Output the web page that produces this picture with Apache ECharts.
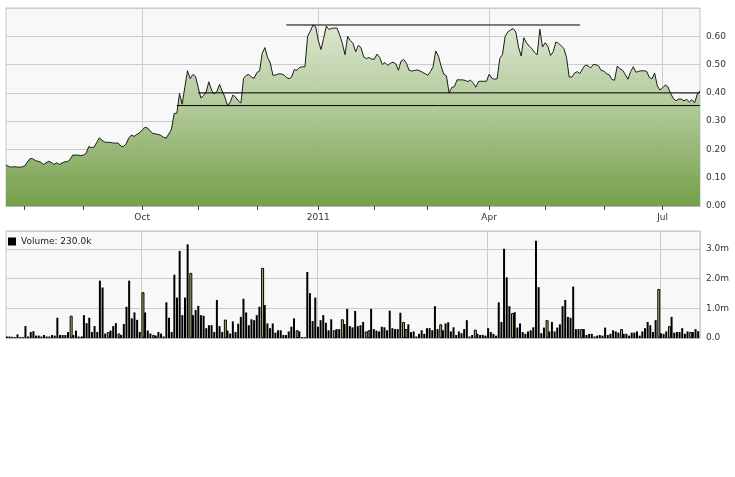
<!DOCTYPE html>
<html><head><meta charset="utf-8">
<script src="https://cdn.jsdelivr.net/npm/echarts@6/dist/echarts.min.js"></script>
<style>html,body{margin:0;padding:0;background:#fff}#c{width:735px;height:477px}</style>
</head><body><div id="c"></div>
<script>
// Trading calendar (weekdays) covered by the chart
const startDate = '2010-07-22';
const endDate = '2011-07-21';
const monthNames = ['Jan','Feb','Mar','Apr','May','Jun','Jul','Aug','Sep','Oct','Nov','Dec'];

// Closing price, one per trading day
const price = [
0.145,0.140,0.137,0.139,0.138,0.137,0.138,0.142,0.155,0.168,
0.167,0.161,0.158,0.155,0.147,0.153,0.158,0.154,0.147,0.153,
0.147,0.152,0.156,0.157,0.165,0.180,0.180,0.180,0.178,0.180,
0.186,0.210,0.207,0.208,0.225,0.241,0.232,0.226,0.225,0.225,
0.223,0.222,0.223,0.212,0.210,0.220,0.240,0.251,0.246,0.253,
0.258,0.268,0.278,0.276,0.265,0.257,0.255,0.253,0.250,0.243,
0.240,0.255,0.272,0.327,0.328,0.398,0.360,0.420,0.478,0.450,
0.465,0.458,0.420,0.382,0.390,0.405,0.439,0.410,0.396,0.405,
0.430,0.407,0.385,0.355,0.368,0.392,0.385,0.372,0.364,0.451,
0.462,0.465,0.455,0.452,0.472,0.477,0.540,0.560,0.525,0.506,
0.462,0.463,0.467,0.467,0.464,0.455,0.450,0.456,0.482,0.480,
0.490,0.492,0.492,0.600,0.618,0.639,0.635,0.585,0.553,0.592,
0.636,0.624,0.628,0.629,0.629,0.605,0.575,0.535,0.600,0.585,
0.575,0.545,0.568,0.560,0.527,0.521,0.525,0.519,0.519,0.537,
0.525,0.500,0.507,0.497,0.505,0.508,0.503,0.480,0.512,0.518,
0.505,0.480,0.477,0.479,0.481,0.478,0.473,0.468,0.462,0.475,
0.492,0.548,0.530,0.495,0.466,0.460,0.400,0.419,0.422,0.446,
0.446,0.446,0.444,0.440,0.445,0.436,0.420,0.440,0.441,0.441,
0.441,0.466,0.452,0.448,0.450,0.522,0.535,0.600,0.615,0.622,
0.627,0.615,0.562,0.530,0.595,0.577,0.565,0.557,0.543,0.535,
0.625,0.562,0.577,0.565,0.532,0.545,0.580,0.575,0.566,0.557,
0.525,0.456,0.456,0.470,0.475,0.468,0.485,0.498,0.496,0.488,
0.500,0.500,0.495,0.479,0.477,0.467,0.464,0.447,0.445,0.495,
0.485,0.480,0.465,0.448,0.475,0.492,0.473,0.476,0.478,0.478,
0.476,0.455,0.449,0.470,0.425,0.410,0.418,0.428,0.421,0.398,
0.380,0.372,0.378,0.378,0.372,0.377,0.368,0.376,0.365,0.396,0.407
];

// Daily volume, millions of shares
const volume = [
.05,.05,.04,.03,.12,.03,.03,.4,.05,.2,
.23,.08,.08,.05,.1,.05,.05,.1,.08,.68,
.1,.1,.1,.2,.75,.1,.25,.05,.05,.77,
.5,.68,.2,.4,.2,1.93,1.7,.15,.2,.25,
.4,.5,.15,.1,.47,1.05,1.93,.66,.86,.61,
.2,1.54,.86,.25,.15,.1,.08,.2,.15,.05,
1.2,.68,.2,2.13,1.36,2.93,.77,1.36,3.15,2.19,
.77,.94,1.08,.77,.75,.33,.43,.43,.2,1.28,
.4,.2,.62,.25,.15,.56,.2,.48,.71,1.32,
.86,.43,.63,.6,.77,1.05,2.36,1.11,.49,.33,
.49,.18,.26,.26,.1,.1,.22,.38,.66,.26,
.22,.03,.03,2.22,1.51,.57,1.36,.38,.6,.77,
.51,.26,.63,.26,.3,.3,.63,.47,.98,.4,
.36,.91,.4,.43,.54,.22,.26,.98,.3,.25,
.22,.38,.36,.26,.92,.33,.3,.3,.85,.54,
.3,.46,.2,.22,.05,.14,.26,.14,.33,.33,
.26,1.07,.3,.46,.26,.49,.53,.22,.36,.1,
.22,.16,.3,.6,.05,.1,.28,.14,.1,.1,
.08,.33,.2,.14,.08,1.2,.54,3.0,2.04,1.07,
.84,.87,.35,.49,.2,.14,.22,.26,.36,3.27,
1.71,.16,.35,.6,.22,.54,.22,.35,.46,1.07,
1.28,.71,.68,1.73,.3,.3,.3,.3,.1,.14,
.14,.05,.08,.1,.08,.35,.1,.14,.26,.22,
.18,.3,.14,.14,.08,.18,.18,.22,.08,.22,
.33,.54,.43,.2,.6,1.65,.16,.14,.22,.4,
.71,.18,.2,.2,.33,.14,.22,.2,.2,.3,.23
];

// Days whose volume bar is drawn hollow-green
const greenBars = [24,28,38,42,51,55,69,82,96,109,123,126,135,136,149,150,163,176,190,203,216,231,245,249,257];

// Horizontal trend lines
const levelFrom = ['2010-12-16','2010-11-01','2010-10-20'];
const levelTo   = ['2011-05-19','2011-07-21','2011-07-21'];
const levelValue = [0.64, 0.40, 0.355];

function tradingDays(s, e) {
  const out = [];
  const [ys, ms, ds] = s.split('-').map(Number);
  const [ye, me, de] = e.split('-').map(Number);
  let t = Date.UTC(ys, ms - 1, ds);
  const end = Date.UTC(ye, me - 1, de);
  while (t <= end) {
    const d = new Date(t);
    const wd = d.getUTCDay();
    if (wd !== 0 && wd !== 6) out.push(d.toISOString().slice(0, 10));
    t += 86400000;
  }
  return out;
}
const dates = tradingDays(startDate, endDate);
const monthOf = s => Number(s.slice(5, 7)) - 1;
const isMonthStart = (i) => i > 0 && monthOf(dates[i]) !== monthOf(dates[i - 1]);
const isQuarterStart = (i) => isMonthStart(i) && monthOf(dates[i]) % 3 === 0;
const labelFmt = (v) => monthOf(v) === 0 ? v.slice(0, 4) : monthNames[monthOf(v)];

const FONT = 'DejaVu Sans';
const gridLine = { lineStyle: { color: '#cccccc', width: 1 } };

const chart = echarts.init(document.getElementById('c'), null, { renderer: 'canvas' });
const blackVol = volume.map((v, i) => greenBars.includes(i) ? null : v);
const greenVol = volume.map((v, i) => greenBars.includes(i) ? v : null);

const levelSeries = levelValue.map((v, k) => ({
  type: 'line', xAxisIndex: 0, yAxisIndex: 0, silent: true, symbol: 'none', z: 4,
  lineStyle: { color: '#000', width: 1 },
  data: [[levelFrom[k], v], [levelTo[k], v]]
}));

chart.setOption({
  animation: false,
  textStyle: { fontFamily: FONT },
  grid: [
    { left: 6, right: 35, top: 8, height: 198, show: true, backgroundColor: '#f8f8f8', borderColor: '#c4c4c4', borderWidth: 1 },
    { left: 6, right: 35, top: 231, height: 107, show: true, backgroundColor: '#f8f8f8', borderColor: '#c4c4c4', borderWidth: 1 }
  ],
  legend: {
    data: ['Volume'], left: 3, top: 232, icon: 'rect', itemWidth: 8, itemHeight: 8, itemGap: 3,
    selectedMode: false,
    formatter: () => 'Volume: ' + (volume[volume.length - 1] * 1000).toFixed(1) + 'k',
    textStyle: { fontSize: 9, color: '#222', fontFamily: FONT }
  },
  xAxis: [
    {
      type: 'category', gridIndex: 0, data: dates, boundaryGap: false,
      axisLine: { lineStyle: { color: '#b8b8b8' } },
      axisTick: { interval: isMonthStart, length: 4, lineStyle: { color: '#444' } },
      axisLabel: { interval: isQuarterStart, formatter: labelFmt, color: '#333', fontSize: 9, margin: 7, fontFamily: FONT },
      splitLine: Object.assign({ show: true, interval: isQuarterStart }, gridLine)
    },
    {
      type: 'category', gridIndex: 1, data: dates, boundaryGap: true,
      axisLine: { lineStyle: { color: '#b8b8b8' } },
      axisTick: { show: false }, axisLabel: { show: false },
      splitLine: Object.assign({ show: true, interval: isQuarterStart }, gridLine)
    }
  ],
  yAxis: [
    {
      type: 'value', gridIndex: 0, position: 'right', min: 0, max: 0.7, interval: 0.1,
      axisLine: { show: false }, axisTick: { show: false },
      axisLabel: { formatter: v => v > 0.65 ? '' : v.toFixed(2), color: '#333', fontSize: 9, margin: 6, fontFamily: FONT },
      splitLine: gridLine
    },
    {
      type: 'value', gridIndex: 1, position: 'right', min: 0, max: 3.6, interval: 1,
      axisLine: { show: false }, axisTick: { show: false },
      axisLabel: {
        formatter: v => v === 0 ? '0.0' : (Math.abs(v - Math.round(v)) < 1e-6 ? v.toFixed(1) + 'm' : ''),
        color: '#333', fontSize: 9, margin: 6, fontFamily: FONT
      },
      splitLine: gridLine
    }
  ],
  series: [
    {
      name: 'Price', type: 'line', xAxisIndex: 0, yAxisIndex: 0, data: price,
      symbol: 'none', z: 3,
      lineStyle: { color: '#1c1c1c', width: 1 },
      areaStyle: {
        opacity: 0.92,
        color: new echarts.graphic.LinearGradient(0, 0, 0, 1, [
          { offset: 0, color: '#d9e5cd' },
          { offset: 0.5, color: '#a6c289' },
          { offset: 1, color: '#6a983b' }
        ])
      }
    },
    ...levelSeries,
    {
      name: 'Volume', type: 'bar', xAxisIndex: 1, yAxisIndex: 1, data: blackVol,
      barWidth: 2, barGap: '-100%', itemStyle: { color: '#000' }
    },
    {
      name: 'VolumeUp', type: 'bar', xAxisIndex: 1, yAxisIndex: 1, data: greenVol,
      barWidth: 3, barGap: '-100%',
      itemStyle: { color: '#9dbd72', borderColor: '#000', borderWidth: 1 }
    }
  ]
});
</script>
</body></html>
